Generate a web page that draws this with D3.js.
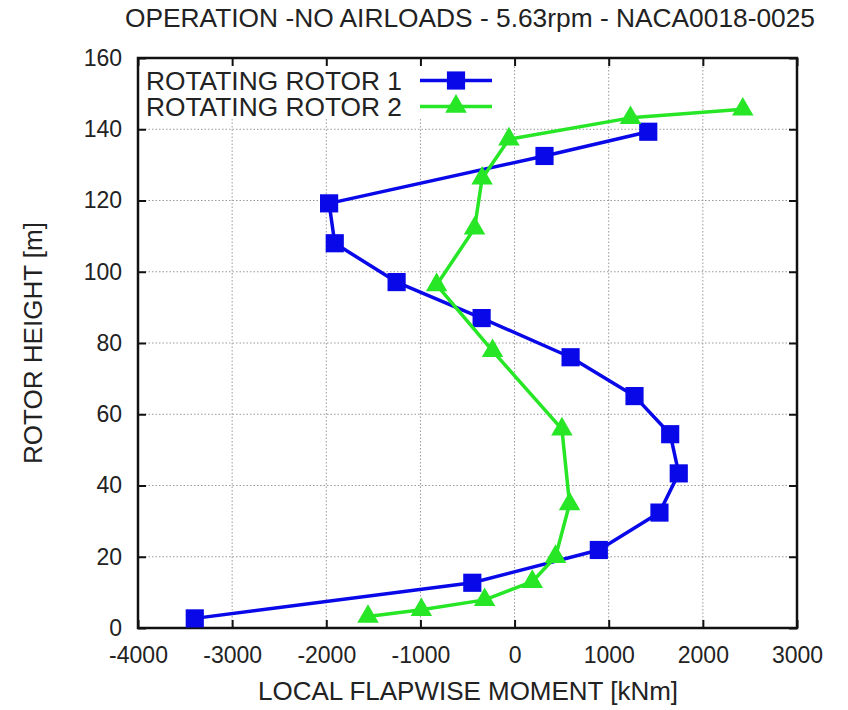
<!DOCTYPE html>
<html>
<head>
<meta charset="UTF-8">
<title>Flapwise moment</title>
<script src="https://cdn.jsdelivr.net/npm/d3@7"></script>
<style>
  body { margin: 0; background: #fff; }
  svg text { font-family: "Liberation Sans", Arial, sans-serif; fill: #222; }
  .grid line { stroke: #999; stroke-dasharray: 1.5 2; stroke-width: 1; }
</style>
</head>
<body>
<script>
// rotor 1 (squares)
const rotor1Moment = [1420, 318, -1970, -1910, -1253, -350, 595, 1274, 1653, 1744, 1539, 895, -449, -3397];
const rotor1Height = [139.3, 132.5, 119.2, 108, 97.1, 87, 76, 65.1, 54.4, 43.4, 32.4, 21.9, 12.7, 2.7];
// rotor 2 (triangles)
const rotor2Moment = [2424, 1231, -60, -345, -425, -828, -234, 503, 584, 435, 188, -318, -990, -1557];
const rotor2Height = [145.6, 143.2, 137.2, 126.2, 112.2, 96.3, 77.8, 55.8, 34.8, 20, 13, 7.9, 5.1, 3.2];

const xTicks = [-4000, -3000, -2000, -1000, 0, 1000, 2000, 3000];
const yTicks = [0, 20, 40, 60, 80, 100, 120, 140, 160];
const seriesNames = ["ROTATING ROTOR 1", "ROTATING ROTOR 2"];

const W = 848, H = 710;
const pLeft = 138, pRight = 797, pTop = 58, pBottom = 628;

const x = d3.scaleLinear().domain([-4000, 3000]).range([pLeft, pRight]);
const y = d3.scaleLinear().domain([0, 160]).range([pBottom, pTop]);

const svg = d3.select("body").append("svg")
  .attr("width", W).attr("height", H);

// grid
const grid = svg.append("g").attr("class", "grid");
grid.selectAll(".gx").data(xTicks.slice(1, -1)).enter().append("line")
  .attr("x1", d => x(d)).attr("x2", d => x(d))
  .attr("y1", pBottom).attr("y2", pTop);
grid.selectAll(".gy").data(yTicks.slice(1, -1)).enter().append("line")
  .attr("x1", pLeft).attr("x2", pRight)
  .attr("y1", d => y(d)).attr("y2", d => y(d));

// legend background hides the grid behind the key
svg.append("rect")
  .attr("x", pLeft + 1).attr("y", pTop + 1)
  .attr("width", 367).attr("height", 60)
  .attr("fill", "#fff");

// axes, ticks pointing inward on all four sides
const tickLen = 8;
const fmt = d => String(d);
svg.append("g").attr("transform", `translate(0,${pBottom})`)
  .call(d3.axisBottom(x).tickValues(xTicks).tickSize(-tickLen).tickPadding(19).tickFormat(fmt))
  .call(g => g.select(".domain").remove());
svg.append("g").attr("transform", `translate(0,${pTop})`)
  .call(d3.axisTop(x).tickValues(xTicks).tickSize(-tickLen).tickFormat(""))
  .call(g => g.select(".domain").remove());
svg.append("g").attr("transform", `translate(${pLeft},0)`)
  .call(d3.axisLeft(y).tickValues(yTicks).tickSize(-tickLen).tickPadding(16).tickFormat(fmt))
  .call(g => g.select(".domain").remove());
svg.append("g").attr("transform", `translate(${pRight},0)`)
  .call(d3.axisRight(y).tickValues(yTicks).tickSize(-tickLen).tickFormat(""))
  .call(g => g.select(".domain").remove());

svg.selectAll(".tick line").attr("stroke", "#111").attr("stroke-width", 2);
svg.selectAll(".tick text")
  .style("font-family", "'Liberation Sans', Arial, sans-serif")
  .style("font-size", "23px").attr("fill", "#222");

svg.append("rect")
  .attr("x", pLeft).attr("y", pTop)
  .attr("width", pRight - pLeft).attr("height", pBottom - pTop)
  .attr("fill", "none").attr("stroke", "#111").attr("stroke-width", 2.5);

// series
const series = [
  { name: seriesNames[0], xs: rotor1Moment, ys: rotor1Height, color: "#0808e8", sym: d3.symbolSquare, size: 330 },
  { name: seriesNames[1], xs: rotor2Moment, ys: rotor2Height, color: "#26e626", sym: d3.symbolTriangle, size: 200 }
];

const line = d3.line().x(d => x(d[0])).y(d => y(d[1]));

series.forEach(s => {
  const pts = s.xs.map((v, i) => [v, s.ys[i]]);
  svg.append("path").datum(pts)
    .attr("d", line)
    .attr("fill", "none").attr("stroke", s.color)
    .attr("stroke-width", 3.5).attr("stroke-linejoin", "round");
  svg.selectAll(null).data(pts).enter().append("path")
    .attr("transform", d => `translate(${x(d[0])},${y(d[1])})`)
    .attr("d", d3.symbol().type(s.sym).size(s.size))
    .attr("fill", s.color);
});

// legend
series.forEach((s, i) => {
  const ly = 80.5 + i * 26;
  svg.append("text")
    .attr("x", 402).attr("y", ly + 9)
    .attr("text-anchor", "end")
    .attr("textLength", 256).attr("lengthAdjust", "spacingAndGlyphs")
    .style("font-size", "25px")
    .text(s.name);
  svg.append("line")
    .attr("x1", 420).attr("x2", 492).attr("y1", ly).attr("y2", ly)
    .attr("stroke", s.color).attr("stroke-width", 3.5);
  svg.append("path")
    .attr("transform", `translate(456,${ly})`)
    .attr("d", d3.symbol().type(s.sym).size(s.size))
    .attr("fill", s.color);
});

// titles
svg.append("text")
  .attr("x", 470).attr("y", 27)
  .attr("text-anchor", "middle")
  .attr("textLength", 690).attr("lengthAdjust", "spacingAndGlyphs")
  .style("font-size", "25px")
  .text("OPERATION -NO AIRLOADS - 5.63rpm - NACA0018-0025");

svg.append("text")
  .attr("x", 468).attr("y", 700)
  .attr("text-anchor", "middle")
  .attr("textLength", 420).attr("lengthAdjust", "spacingAndGlyphs")
  .style("font-size", "25px")
  .text("LOCAL FLAPWISE MOMENT [kNm]");

svg.append("text")
  .attr("transform", "translate(42,343) rotate(-90)")
  .attr("text-anchor", "middle")
  .attr("textLength", 242).attr("lengthAdjust", "spacingAndGlyphs")
  .style("font-size", "25px")
  .text("ROTOR HEIGHT [m]");
</script>
</body>
</html>
